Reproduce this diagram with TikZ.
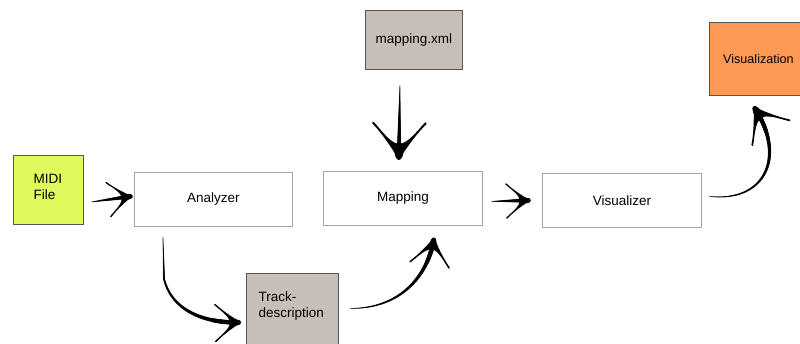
\documentclass[tikz,border=0pt]{standalone}
\usepackage{fontspec}
\setmainfont{Liberation Sans}
\usetikzlibrary{calc,decorations.markings}
\definecolor{midiY}{RGB}{222,250,92}
\definecolor{taupe}{RGB}{200,190,184}
\definecolor{orng}{RGB}{255,153,85}
\definecolor{edgeG}{RGB}{165,165,165}
\definecolor{edgeD}{RGB}{85,85,85}
\tikzset{
  wbox/.style={draw=edgeG, line width=0.8pt, fill=white, inner sep=0pt},
  cbox/.style={draw=edgeD, line width=0.8pt, inner sep=0pt},
  brush/.style={
    postaction={decorate, decoration={markings,
      mark=between positions 0 and 0.99 step 0.6pt with {
        \pgfmathsetmacro\rr{0.4+2.0*\pgfkeysvalueof{/pgf/decoration/mark info/distance from start}/\pgfdecoratedpathlength}
        \fill[black] (0,0) circle[radius=\rr pt];
      }}},
    postaction={decorate, decoration={markings, mark=at position 0.998 with {
      \begin{scope}[scale=#1]
      \fill[black] (2,0) .. controls (-6,5) and (-22,15) .. (-34,27)
        .. controls (-36,28) and (-37,26) .. (-35,25)
        .. controls (-26,17) and (-14,8) .. (-14,0)
        .. controls (-14,-8) and (-26,-17) .. (-35,-25)
        .. controls (-37,-26) and (-36,-28) .. (-34,-27)
        .. controls (-22,-15) and (-6,-5) .. cycle;
      \fill[black] (-7,0) ellipse (9 and 4.5);
      \end{scope}
    }}}},
  brush/.default=1,
  lbl/.style={font=\fontsize{13.5}{16}\selectfont}
}
\begin{document}
\begin{tikzpicture}[x=1pt,y=-1pt]
\useasboundingbox (0,0) rectangle (800,343);
\clip (0,0) rectangle (800,343);
% boxes
\node[cbox, fill=midiY, minimum width=70, minimum height=69, anchor=north west] (midi) at (13,155) {};
\node[lbl, align=left, anchor=west] at (30,187) {MIDI\\File};
\node[wbox, minimum width=158, minimum height=54, anchor=north west, lbl] (analyzer) at (134,172) {Analyzer};
\node[cbox, fill=taupe, minimum width=92, minimum height=80, anchor=north west] (track) at (246,273) {};
\node[lbl, align=left, anchor=west] at (255,306) {Track-\\description};
\node[cbox, fill=taupe, minimum width=97, minimum height=59, anchor=north west, lbl] (xml) at (365,10) {mapping.xml};
\node[wbox, minimum width=159, minimum height=54, anchor=north west, lbl] (mapping) at (323,171) {Mapping};
\node[wbox, minimum width=159, minimum height=54, anchor=north west, lbl] (visualizer) at (542,173) {Visualizer};
\node[cbox, fill=orng, minimum width=110, minimum height=73, anchor=north west] (vis) at (709,22) {};
\node[font=\fontsize{12.6}{15}\selectfont, anchor=west, inner sep=0pt] at (723,59) {Visualization};
% connectors
\path[brush=0.65] ($(midi.east)+(8,12)$) -- ($(analyzer.west)+(-3,-3)$);
\path[brush=0.7] ($(analyzer.south west)+(29,11)$) -- ($(analyzer.south west)+(30,52)$)
   .. controls ($(track.west)+(-75,-5)$) and ($(track.west)+(-45,10)$) .. ($(track.west)+(-6,9)$);
\path[brush=0.75] ($(track.east)+(12,-5)$) .. controls ($(track.east)+(62,-5)$) and ($(mapping.south)+(25,50)$) .. ($(mapping.south)+(31,13)$);
\path[brush=1] ($(xml.south)+(-14,16)$) -- ($(mapping.north)+(-4,-13)$);
\path[brush=0.65] ($(mapping.east)+(9,3)$) -- ($(visualizer.west)+(-13,0)$);
\path[brush=0.85] ($(visualizer.east)+(8,-4)$) .. controls ($(visualizer.east)+(64,2)$) and ($(vis.south)+(22,60)$) .. ($(vis.south)+(-10,12)$);
\end{tikzpicture}
\end{document}
